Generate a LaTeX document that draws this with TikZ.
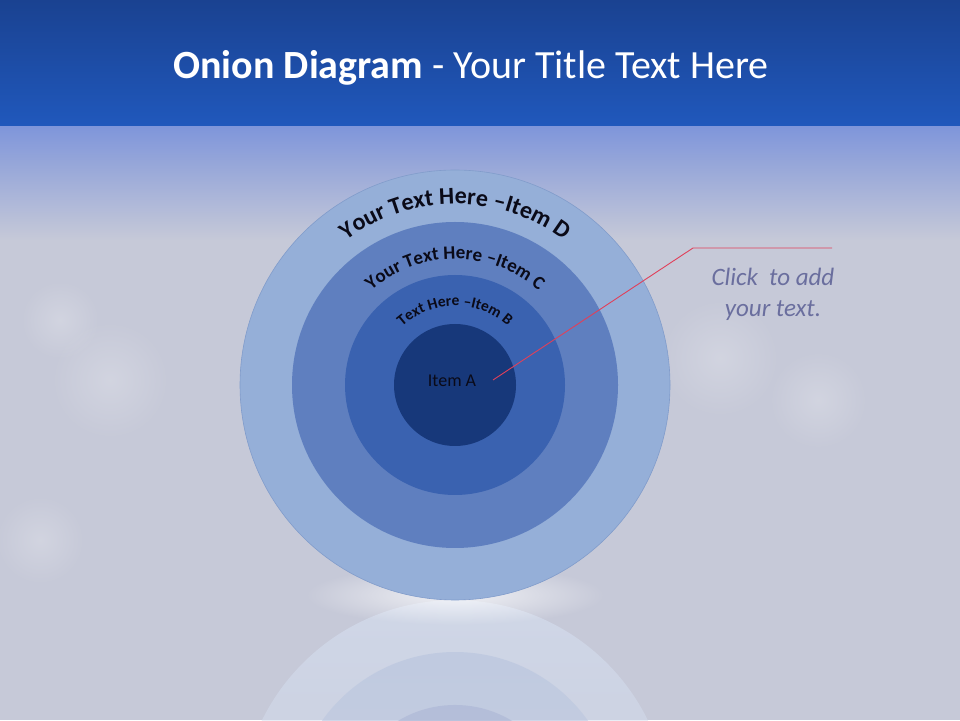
\documentclass[tikz,border=0pt]{standalone}
\usepackage{fontspec}
\setmainfont{Carlito}
\usetikzlibrary{decorations.text,fadings}
\definecolor{bg}{HTML}{C6C9D8}
\definecolor{bandtop}{HTML}{1A4291}
\definecolor{bandbot}{HTML}{2058BC}
\definecolor{haze}{HTML}{7E95DA}
\definecolor{cD}{HTML}{95AFD8}
\definecolor{cDline}{HTML}{819CCB}
\definecolor{cC}{HTML}{5F7FBF}
\definecolor{cB}{HTML}{3A62B0}
\definecolor{cA}{HTML}{17387A}
\definecolor{rD}{HTML}{D4DDEE}
\definecolor{rC}{HTML}{BAC6DF}
\definecolor{rB}{HTML}{AEB8D6}
\definecolor{callred}{HTML}{E0405A}
\definecolor{notecol}{HTML}{6A6E9E}
\definecolor{ringtext}{HTML}{0A0A18}
\tikzfading[name=glowfade, inner color=transparent!25, outer color=transparent!100]
\tikzfading[name=softspot, inner color=transparent!40, outer color=transparent!100]
\tikzfading[name=reflfade, top color=transparent!30, bottom color=transparent!100]
\tikzset{
  ring/.style={circle, inner sep=0pt, outer sep=0pt, minimum size=#1},
  ringlabel/.style={decorate, decoration={text along path, text align=center, text color=ringtext, text={#1}}},
  callout/.style={draw=callred, line width=0.9pt},
  notetext/.style={align=center, text=notecol, font=\itshape\fontsize{25}{31}\selectfont},
  bokeh/.style={fill=white, opacity=0.35, path fading=softspot},
}
\begin{document}
\begin{tikzpicture}[x=1pt,y=1pt]
\useasboundingbox (0,0) rectangle (960,720);
% background
\fill[bg] (0,0) rectangle (960,720);
\shade[top color=haze, bottom color=bg] (0,480) rectangle (960,595);
% bokeh spots
\fill[bokeh] (110,340) circle[radius=60];
\fill[bokeh] (60,400) circle[radius=40];
\fill[bokeh] (720,362) circle[radius=60];
\fill[bokeh] (818,320) circle[radius=50];
\fill[bokeh] (40,180) circle[radius=45];
% title band
\shade[top color=bandtop, bottom color=bandbot] (0,594) rectangle (960,720);
\node[text=white, font=\fontsize{40}{40}\selectfont] (title) at (471,652) {\textbf{Onion Diagram} - Your Title Text Here};
% reflection
\begin{scope}
\clip (0,0) rectangle (960,120);
\fill[rD, path fading=reflfade] (455,-95) circle[radius=215];
\fill[rC, path fading=reflfade] (455,-95) circle[radius=163];
\fill[rB, path fading=reflfade] (455,-95) circle[radius=110];
\end{scope}
\fill[white, path fading=glowfade] (455,125) ellipse[x radius=150, y radius=30];
% onion rings
\node[ring=430pt, fill=cD, draw=cDline, line width=0.6pt] (D) at (455,335) {};
\node[ring=326pt, fill=cC] (C) at (D.center) {};
\node[ring=220pt, fill=cB] (B) at (D.center) {};
\node[ring=122pt, fill=cA] (A) at (D.center) {};
% curved labels
\path[ringlabel={|\bfseries\fontsize{24}{24}\selectfont|Your Text Here –Item D}] (D.center) ++(180:181) arc[start angle=180, end angle=0, radius=181];
\path[ringlabel={|\bfseries\fontsize{19}{19}\selectfont|Your Text Here –Item C}] (D.center) ++(180:126) arc[start angle=180, end angle=0, radius=126];
\path[ringlabel={|\bfseries\fontsize{15.5}{15.5}\selectfont|Text Here –Item B}] (D.center) ++(180:79) arc[start angle=180, end angle=0, radius=79];
\node[text=ringtext, font=\fontsize{18}{18}\selectfont] (itemA) at (452,339) {Item A};
% callout
\coordinate (calloutStart) at (493,340);
\coordinate (elbow) at (693,472);
\coordinate (calloutEnd) at (832,472);
\draw[callout] (calloutStart) -- (elbow) -- (calloutEnd);
\node[notetext] (note) at (773,426) {Click\ \ to add\\your text.};
\end{tikzpicture}
\end{document}
